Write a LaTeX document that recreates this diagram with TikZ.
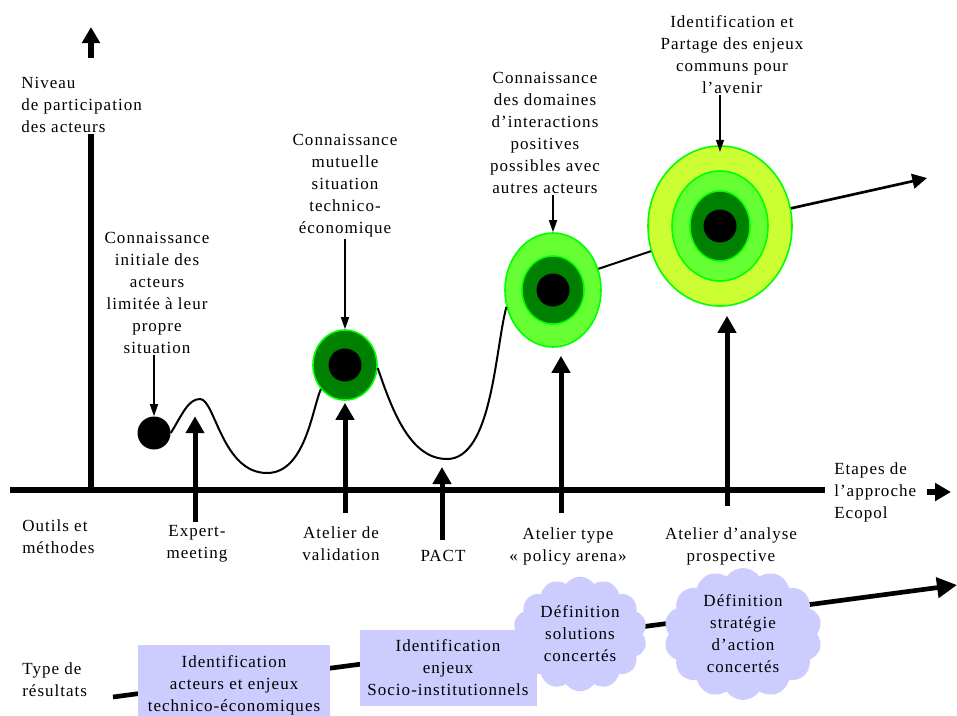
\documentclass[tikz,border=0pt]{standalone}
\usepackage{fontspec}
\setmainfont{Liberation Serif}[LetterSpace=6]
\usetikzlibrary{arrows.meta}
\usetikzlibrary{shapes.geometric}
\usetikzlibrary{shapes.symbols}

\begin{document}
\begin{tikzpicture}[x=0.75pt,y=0.75pt,yscale=-1,xscale=1,
  txt/.style={inner sep=0.75pt,align=center,font=\fontsize{12.75}{16.5}\selectfont},
  axisline/.style={line width=4pt},
  axisarrow/.style={line width=4pt,-{Triangle[length=12pt,width=13pt]}},
  tool/.style={line width=3.75pt,-{Triangle[length=12.75pt,width=13.5pt]}},
  pointer/.style={line width=1.1pt,-{Triangle[length=9pt,width=6pt]}},
  wave/.style={line width=1.5pt},
  future/.style={line width=2pt,-{Triangle[length=11pt,width=11pt]}},
  result/.style={line width=3.5pt,-{Triangle[length=15pt,width=15pt]}},
  ring/.style={ellipse,inner sep=0pt,draw={rgb, 255:red, 0; green, 255; blue, 0 },line width=1.2pt},
  dot/.style={circle,fill=black,inner sep=0pt,minimum size=24.75pt},
  box/.style={txt,inner sep=0pt,fill={rgb, 255:red, 204; green, 204; blue, 255 }},
  puff/.style={txt,inner sep=0pt,cloud,cloud puffs=14,cloud puff arc=110,cloud ignores aspect,fill={rgb, 255:red, 204; green, 204; blue, 255 }}
]
\useasboundingbox (0,0) rectangle (957,715);

%Straight Lines [axes]
\coordinate (o) at (91,490);
\coordinate (xstart) at (10,490);
\coordinate (xend) at (825,490);
\coordinate (ybot) at (91,58);
\coordinate (ytip) at (91,27);
\coordinate (xarrow0) at (927,492);
\coordinate (xarrow1) at (951,492);

% Text Node
\node[txt,align=left,anchor=west] (niveau) at (20,105) {Niveau\\de participation\\des acteurs};
% Text Node
\node[txt,align=left,anchor=west] (etapes) at (833,492) {Etapes de\\l’approche\\Ecopol};

\draw[axisline] (xstart) -- (xend);
\draw[axisline] (o) -- (niveau.south -| o);
\draw[axisarrow] (ybot) -- (ytip);
\draw[axisarrow] (xarrow0) -- (xarrow1);

%Curve Lines [participation]
\node[dot] (c0) at (154,433) {};
%Shape: Ellipse [mutuelle]
\node[ring,fill={rgb, 255:red, 0; green, 128; blue, 0 },minimum width=48pt,minimum height=52.5pt] (e1) at (345,365) {};
\node[dot] (e1c) at (e1) {};
%Shape: Ellipse [interactions]
\node[ring,fill={rgb, 255:red, 102; green, 255; blue, 51 },minimum width=72pt,minimum height=85.5pt] (e2) at (553,290) {};
\node[ring,fill={rgb, 255:red, 0; green, 128; blue, 0 },minimum width=46.5pt,minimum height=51pt] (e2b) at (e2) {};
\node[dot] (e2c) at (e2) {};
%Shape: Ellipse [enjeux communs]
\node[ring,fill={rgb, 255:red, 204; green, 255; blue, 51 },minimum width=108pt,minimum height=120pt] (e3) at (720,226) {};
\node[ring,fill={rgb, 255:red, 102; green, 255; blue, 51 },minimum width=72pt,minimum height=82.5pt] (e3a) at (e3) {};
\node[ring,fill={rgb, 255:red, 0; green, 128; blue, 0 },minimum width=45pt,minimum height=52.5pt] (e3b) at (e3) {};
\node[dot] (e3c) at (e3) {};

\draw[wave] (c0.east) .. controls (182,415) and (188,399) .. (200,399) .. controls (215,399) and (222,473) .. (267,473) .. controls (305,473) and (312,410) .. (e1.225);
\draw[wave] (e1.355) .. controls (392,410) and (410,459) .. (447,459) .. controls (492,459) and (495,350) .. (e2.200);
\draw[wave] (e2.25) -- (e3.200);
\coordinate (fut) at (927,178);
\draw[future] (e3.14) -- (fut);

% Text Node
\node[txt] (lab0) at (157,293) {Connaissance\\initiale des\\acteurs\\limitée à leur\\propre\\situation};
% Text Node
\node[txt] (lab1) at (345,186) {Connaissance\\mutuelle\\situation\\technico-\\économique};
% Text Node
\node[txt] (lab2) at (545,133) {Connaissance\\des domaines\\d’interactions\\positives\\possibles avec\\autres acteurs};
% Text Node
\node[txt] (lab3) at (732,55) {Identification et\\Partage des enjeux\\communs pour\\l’avenir};

\draw[pointer] (lab0.south -| c0) -- (c0.north);
\draw[pointer] (lab1.south -| e1) -- (e1.north);
\draw[pointer] (lab2.south -| e2) -- (e2.north);
\draw[pointer,shorten >=-5pt] (lab3.south -| e3) -- (e3.north);

%Straight Lines [outils]
\coordinate (t1) at (195,522);
\coordinate (t2) at (345,513);
\coordinate (t3) at (442,540);
\coordinate (t3tip) at (442,467);
\coordinate (t4) at (561,513);
\coordinate (t5) at (727,506);
\draw[tool] (t1) -- (t1 |- c0.north);
\draw[tool,shorten >=1.5pt] (t2) -- (t2 |- e1.south);
\draw[tool] (t3) -- (t3tip);
\draw[tool,shorten >=6pt] (t4) -- (t4 |- e2.south);
\draw[tool,shorten >=6.75pt] (t5) -- (t5 |- e3.south);

% Text Node
\node[txt,align=left,anchor=west] (outils) at (21,537) {Outils et\\méthodes};
% Text Node
\node[txt] (expert) at (197,544) {Expert-\\meeting};
% Text Node
\node[txt] (valid) at (341,544) {Atelier de\\validation};
% Text Node
\node[txt] (pact) at (443,556) {PACT};
% Text Node
\node[txt] (arena) at (568,546) {Atelier type\\« policy arena»};
% Text Node
\node[txt] (prosp) at (731,546) {Atelier d’analyse\\prospective};

%Straight Lines [resultats]
\coordinate (r0) at (113,697);
\coordinate (r1) at (957,585);
\draw[result] (r0) -- (r1);

% Text Node
\node[txt,align=left,anchor=west] (type) at (21,680) {Type de\\résultats};
%Shape: Rectangle
\node[box,minimum width=144pt,minimum height=60pt] (res1) at (234,685) {Identification\\acteurs et enjeux\\technico-économiques};
%Shape: Rectangle
\node[box,minimum width=132.75pt,minimum height=57pt] (res2) at (448,668) {Identification\\enjeux\\Socio-institutionnels};
%Shape: Cloud
\node[puff,minimum width=100.5pt,minimum height=86pt] (res3) at (580,634) {Définition\\solutions\\concertés};
%Shape: Cloud
\node[puff,minimum width=118.5pt,minimum height=99pt] (res4) at (743,634) {Définition\\stratégie\\d’action\\concertés};

\end{tikzpicture}
\end{document}
